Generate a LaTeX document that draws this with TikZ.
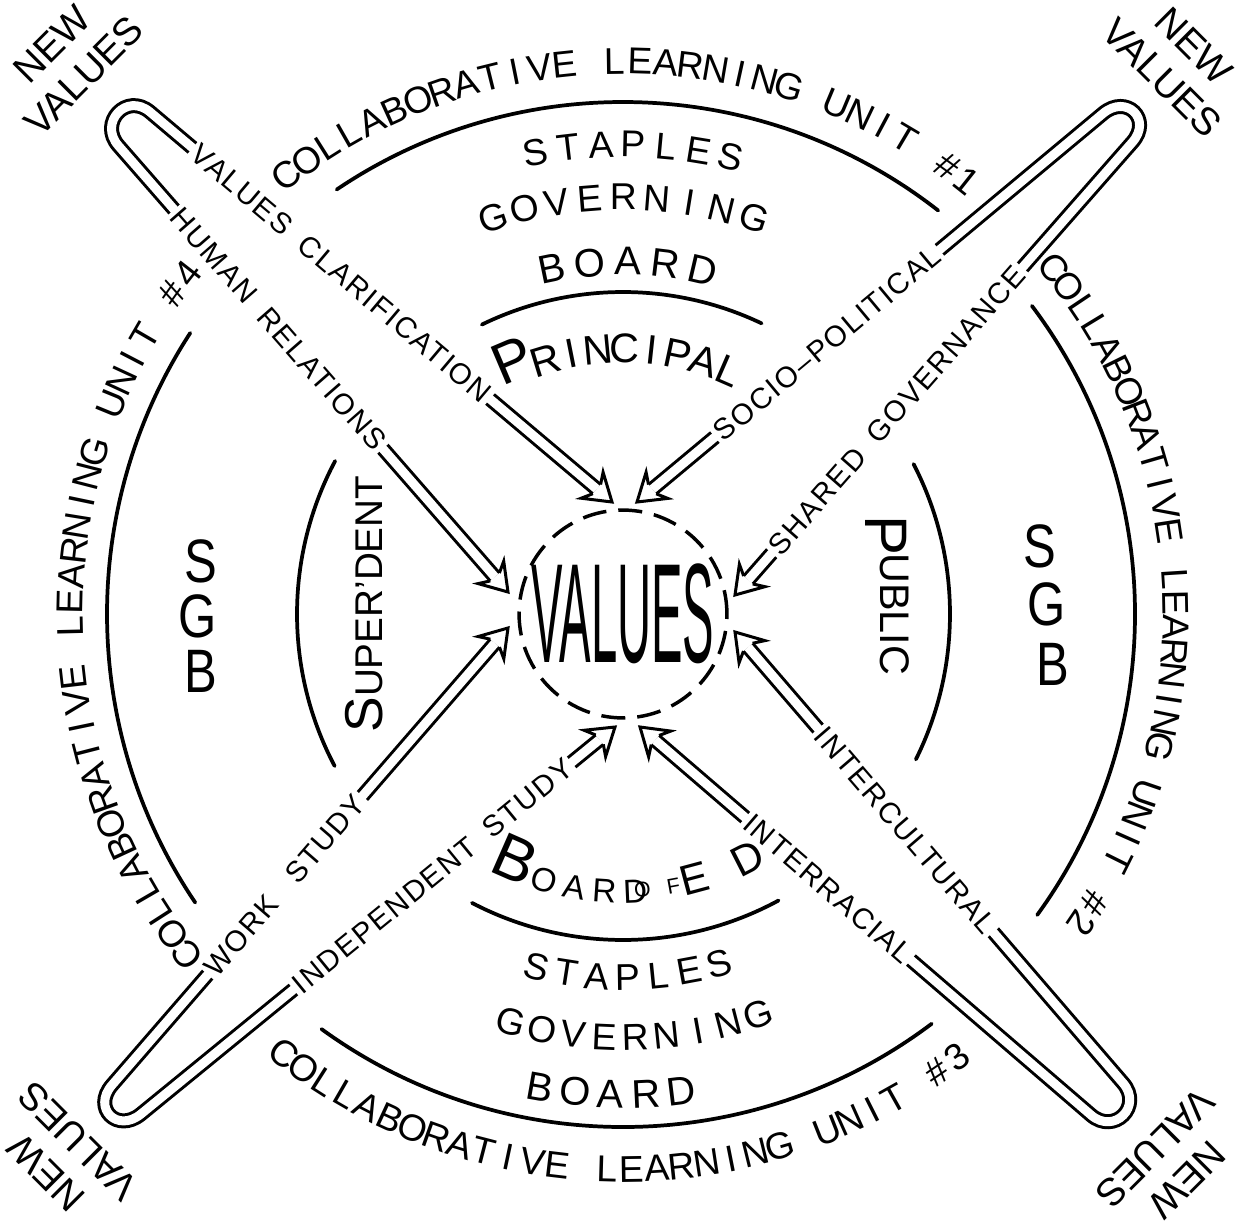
\documentclass[tikz,border=0pt]{standalone}
\usepackage{fontspec}
\setmainfont{Liberation Sans}
\newfontfamily\lblfont{Liberation Sans}[LetterSpace=6,WordSpace=1.8]
\usetikzlibrary{calc}

\newcommand{\fsz}[1]{\fontsize{#1}{#1}\selectfont}
% open head at tip #1, strand coming from #2
\newcommand{\headat}[2]{%
  \draw[headline] ($(#1)!15pt!(#2)!4.5pt!90:(#1)$) -- ($(#1)!19.5pt!(#2)!12.75pt!90:(#1)$) -- (#1)
    -- ($(#1)!19.5pt!(#2)!12.75pt!-90:(#1)$) -- ($(#1)!15pt!(#2)!4.5pt!-90:(#1)$);}
% label set into a strand, read from #1 to #2
\newcommand{\striplabel}[5]{%
  \path let \p1=($(#2)-(#1)$), \n1={atan2(\y1,\x1)} in (#1) -- (#2) node[lbl, pos=#3, rotate={-(\n1)}] (#4) {#5};}
% letters round ctr: radius, first angle, last angle, count, size, turn, letters, name
\newdimen\rwtot \newdimen\rwpos
\newcommand{\ringword}[8]{%
  \global\rwtot=0pt
  \foreach \ch in {#7}{\setbox0\hbox{\fsz{#5}\ch}\global\advance\rwtot by \wd0}%
  \pgfmathsetmacro{\rwgap}{(#1*0.75*(abs(#3-(#2))/180*pi)-\the\rwtot)/max(#4-1,1)}%
  \global\rwpos=0pt
  \foreach \ch [count=\i] in {#7}{%
    \setbox0\hbox{\fsz{#5}\ch}%
    \pgfmathsetmacro{\ang}{#2+sign(#3-(#2))*((\the\rwpos+0.5*\the\wd0)/(#1*0.75))/pi*180}%
    \pgfmathsetmacro{\rot}{-(\ang)-90+#6}%
    \node[font=\fsz{#5}, anchor=base, inner sep=0pt, rotate=\rot] (#8\i) at ($(ctr)+(\ang:#1)$) {\ch};
    \global\advance\rwpos by \wd0
    \global\advance\rwpos by \rwgap pt
  }}

\tikzset{every picture/.style={line width=0.75pt}}
\tikzset{
  strand/.style={line width=2.25pt, double=white, double distance=6.75pt},
  headline/.style={line width=2.25pt, fill=white},
  arcline/.style={line width=2.8pt, line cap=round},
  lbl/.style={fill=white, inner sep=2.5pt, font=\lblfont\fsz{22}},
  newv/.style={align=center, font=\fontsize{29}{34}\selectfont},
  sgb/.style={font=\fsz{46}, xscale=0.8},
}

\begin{document}
\begin{tikzpicture}[x=0.75pt,y=0.75pt,yscale=-1,xscale=1]
\path[use as bounding box] (0,0) rectangle (1245,1224);
\coordinate (ctr) at (623,614);

%Curve Lines
\draw[arcline] ($(ctr)+(-124:512)$) arc[start angle=-124, end angle=-52, radius=512];
\draw[arcline] ($(ctr)+(-37:512)$) arc[start angle=-37, end angle=36, radius=512];
\draw[arcline] ($(ctr)+(53:513)$) arc[start angle=53, end angle=126, radius=513];
\draw[arcline] ($(ctr)+(146:516)$) arc[start angle=146, end angle=213, radius=516];
\draw[arcline] ($(ctr)+(-116:322)$) arc[start angle=-116, end angle=-64.5, radius=322];
\draw[arcline] ($(ctr)+(61.5:326)$) arc[start angle=61.5, end angle=117.6, radius=326];
\draw[arcline] ($(ctr)+(152.2:326)$) arc[start angle=152.2, end angle=208, radius=326];
\draw[arcline] ($(ctr)+(-27.3:327)$) arc[start angle=-27.3, end angle=26.4, radius=327];

% tips and loop ends
\coordinate (tlA) at (612,502);  \coordinate (tlAu) at (150,112);
\coordinate (tlB) at (508,592);  \coordinate (tlBu) at (118.4,145.7);
\coordinate (trA) at (637,502);  \coordinate (trAu) at (1103,113.5);
\coordinate (trB) at (735,595);  \coordinate (trBu) at (1132.3,142.3);
\coordinate (blA) at (508,628);  \coordinate (blAu) at (112,1085);
\coordinate (blB) at (615,727);  \coordinate (blBu) at (141,1114);
\coordinate (brA) at (735,632);  \coordinate (brAu) at (1123,1083);
\coordinate (brB) at (640,727);  \coordinate (brBu) at (1091,1115);

%Loops
\foreach \lp in {tl,tr,bl,br}{
  \draw[strand] ($(\lp A)!15pt!(\lp Au)$) -- (\lp Au)
    .. controls ($(\lp Au)!-23pt!(\lp A)$) and ($(\lp Bu)!-23pt!(\lp B)$) .. (\lp Bu)
    -- ($(\lp B)!15pt!(\lp Bu)$);
  \headat{\lp A}{\lp Au}
  \headat{\lp B}{\lp Bu}
}

% Text Node (loop labels)
\striplabel{tlAu}{tlA}{0.414}{lvc}{VALUES CLARIFICATION}
\striplabel{tlBu}{tlB}{0.411}{lhr}{HUMAN RELATIONS}
\striplabel{trA}{trAu}{0.408}{lsp}{SOCIO\textendash POLITICAL}
\striplabel{trB}{trBu}{0.408}{lsg}{SHARED GOVERNANCE}
\striplabel{blAu}{blA}{0.437}{lws}{WORK\hspace{0.9em}STUDY}
\striplabel{blBu}{blB}{0.615}{lis}{INDEPENDENT STUDY}
\striplabel{brA}{brAu}{0.44}{lic}{INTERCULTURAL}
\striplabel{brB}{brBu}{0.417}{lir}{INTERRACIAL}

% Text Node (outer ring)
\ringword{540}{-127.5}{-51.5}{30}{28}{0}{C,O,L,L,A,B,O,R,A,T,I,V,E,\space,L,E,A,R,N,I,N,G,\space,U,N,I,T,\space,\#,1}{cluA}
\ringword{540}{-38.8}{34}{30}{28}{0}{C,O,L,L,A,B,O,R,A,T,I,V,E,\space,L,E,A,R,N,I,N,G,\space,U,N,I,T,\space,\#,2}{cluB}
\ringword{568}{127.7}{53}{30}{28}{180}{C,O,L,L,A,B,O,R,A,T,I,V,E,\space,L,E,A,R,N,I,N,G,\space,U,N,I,T,\space,\#,3}{cluC}
\ringword{540}{142}{218}{30}{28}{0}{C,O,L,L,A,B,O,R,A,T,I,V,E,\space,L,E,A,R,N,I,N,G,\space,U,N,I,T,\space,\#,4}{cluD}

% Text Node (top)
\ringword{457}{-100.7}{-76.7}{7}{28}{0}{S,T,A,P,L,E,S}{stA}
\ringword{404}{-108.2}{-71.7}{9}{28}{0}{G,O,V,E,R,N,I,N,G}{gvA}
\ringword{339}{-101.6}{-76.9}{5}{30}{0}{B,O,A,R,D}{bdA}
\node[rotate=23, font=\fsz{44}] (prP) at (513,360) {P};
\ringword{251}{-107}{-66.5}{8}{31}{0}{R,I,N,C,I,P,A,L}{pr}

% Text Node (bottom)
\ringword{289}{113.7}{106.1}{1}{47}{180}{B}{beB}
\ringword{289}{106.5}{87.5}{4}{25}{180}{O,A,R,D}{beO}
\ringword{284}{86.0}{79.5}{2}{16}{180}{O,F}{beF}
\ringword{289}{75.0}{63.0}{2}{32}{180}{E,D}{beE}
\ringword{376}{103.8}{74.6}{7}{28}{180}{S,T,A,P,L,E,S}{stB}
\ringword{436}{105.3}{71.3}{9}{28}{180}{G,O,V,E,R,N,I,N,G}{gvB}
\ringword{494}{100}{83}{5}{30}{180}{B,O,A,R,D}{bdB}

% Text Node (sides)
\node[rotate=90, anchor=base west, inner sep=0pt] (supd) at (382,733) {\fsz{40}S\fsz{29}UPER'DENT};
\node[rotate=-90, font=\fsz{45}] (pubP) at (886,536) {P};
\node[rotate=-90, anchor=base west, inner sep=0pt] (pubU) at (880,553) {\fsz{31}UBLIC};

\node[sgb] (sgbLs) at (201,561) {S};
\node[sgb] (sgbLg) at (198,616) {G};
\node[sgb] (sgbLb) at (201,671) {B};
\node[sgb] (sgbRs) at (1040,546) {S};
\node[sgb] (sgbRg) at (1047,604) {G};
\node[sgb] (sgbRb) at (1053,664) {B};

% Text Node (corners)
\node[newv, rotate=45] (nvTL) at (68,60) {NEW\\VALUES};
\node[newv, rotate=-45] (nvTR) at (1178,62) {NEW\\VALUES};
\node[newv, rotate=135] (nvBL) at (62,1157) {NEW\\VALUES};
\node[newv, rotate=-135] (nvBR) at (1171,1164) {NEW\\VALUES};

% centre
\node[draw, circle, dash pattern=on 18pt off 9pt, line width=2.6pt, inner sep=0pt, minimum size=155pt] (values) at (ctr) {\resizebox{137pt}{74pt}{VALUES}};

\end{tikzpicture}
\end{document}
